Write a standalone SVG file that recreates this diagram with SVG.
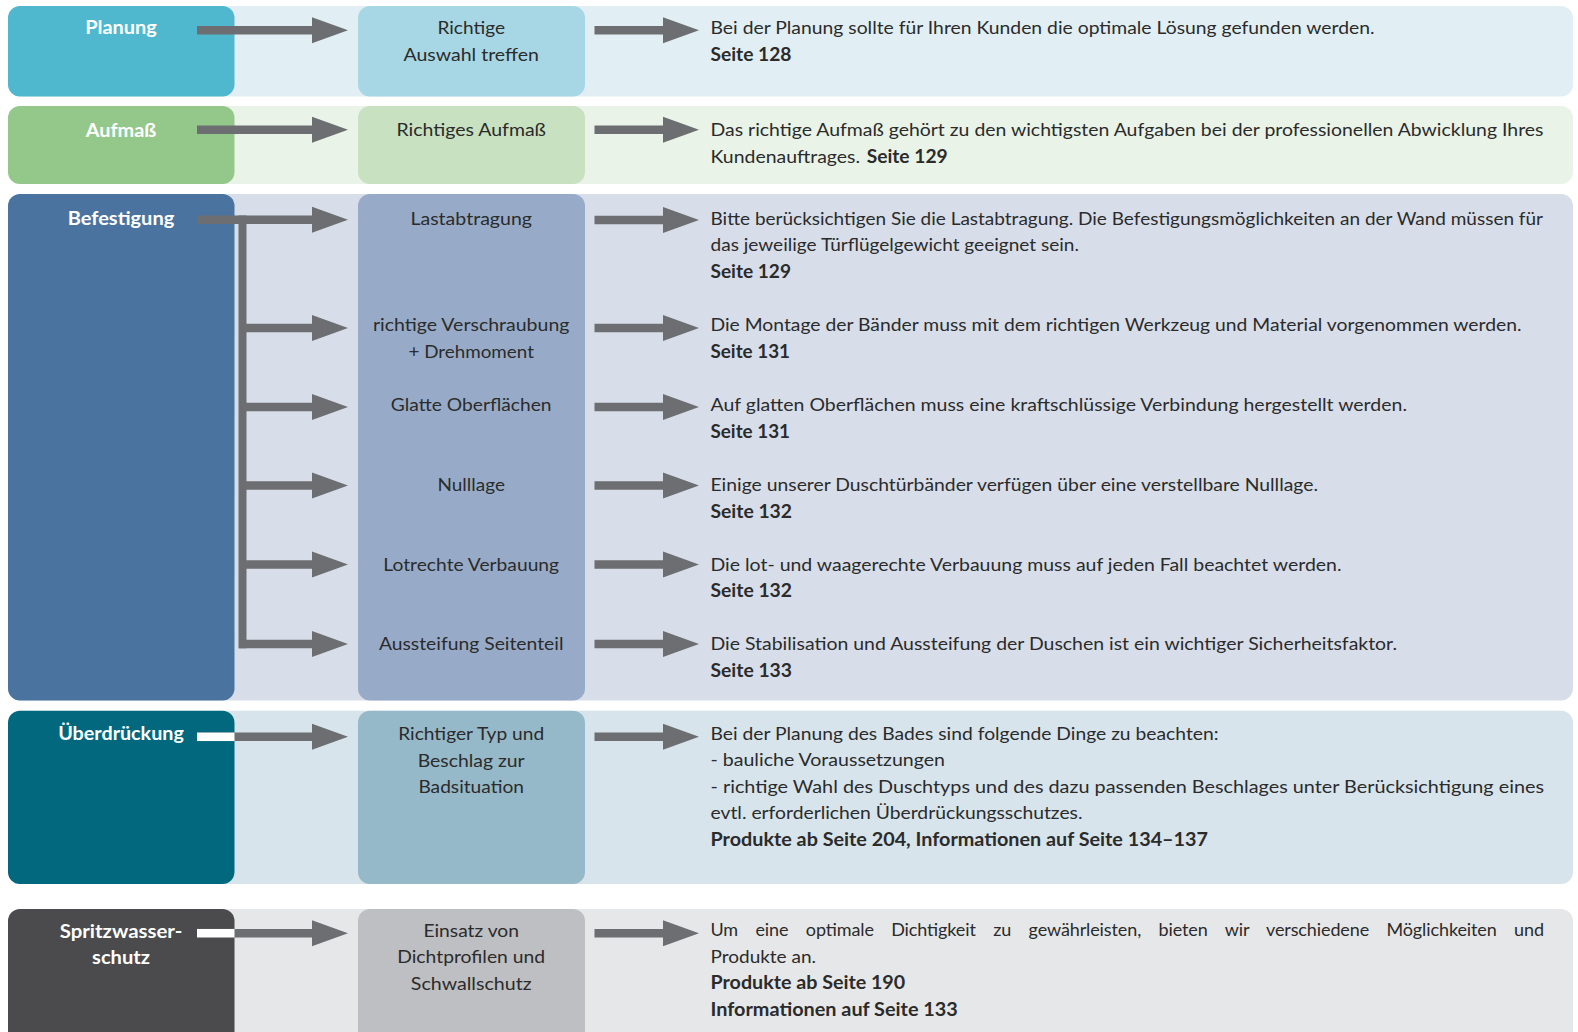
<svg xmlns="http://www.w3.org/2000/svg" width="1578" height="1032" viewBox="0 0 1578 1032">
<defs>
<style>
.t{font-family:Lato,"Open Sans","DejaVu Sans",sans-serif;font-size:18px;fill:#2b2b2b}
.b{font-weight:bold}
.m{font-family:Lato,"Open Sans","DejaVu Sans",sans-serif;font-size:18px;fill:#2b2b2b;text-anchor:middle}
.l{font-family:Lato,"Open Sans","DejaVu Sans",sans-serif;font-size:19px;font-weight:bold;fill:#ffffff;text-anchor:middle}
.arr{fill:#6d6e71}
</style>
<path id="al" d="M197,-4.25 H312 V-13 L348,0 L312,13 V4.25 H197 Z"/>
<path id="ab" d="M239,-4.25 H312 V-13 L348,0 L312,13 V4.25 H239 Z"/>
<path id="ar" d="M594.5,-4.25 H663 V-13 L699,0 L663,13 V4.25 H594.5 Z"/>
</defs>
<rect width="1578" height="1032" fill="#ffffff"/>

<!-- Bands (right-side description nodes) -->
<g id="desc-planung">
<rect x="8" y="6" width="1565" height="90.5" rx="12" fill="#e1eff4"/>
<text class="t" x="710.5" y="33.5" textLength="664" lengthAdjust="spacingAndGlyphs">Bei der Planung sollte für Ihren Kunden die optimale Lösung gefunden werden.</text>
<text class="t b" x="710.5" y="60.5" textLength="81" lengthAdjust="spacingAndGlyphs">Seite 128</text>
</g>
<g id="desc-aufmass">
<rect x="8" y="106" width="1565" height="78" rx="12" fill="#e9f3e7"/>
<text class="t" x="710.5" y="136" textLength="833" lengthAdjust="spacingAndGlyphs">Das richtige Aufmaß gehört zu den wichtigsten Aufgaben bei der professionellen Abwicklung Ihres</text>
<text class="t" x="710.5" y="162.5" textLength="149.5" lengthAdjust="spacingAndGlyphs">Kundenauftrages.</text>
<text class="t b" x="866.7" y="162.5" textLength="81" lengthAdjust="spacingAndGlyphs">Seite 129</text>
</g>
<g id="desc-befestigung">
<rect x="8" y="194" width="1565" height="506.5" rx="12" fill="#d7dee9"/>
<text class="t" x="710.5" y="225" textLength="832.5" lengthAdjust="spacingAndGlyphs">Bitte berücksichtigen Sie die Lastabtragung. Die Befestigungsmöglichkeiten an der Wand müssen für</text>
<text class="t" x="710.5" y="251" textLength="368.5" lengthAdjust="spacingAndGlyphs">das jeweilige Türflügelgewicht geeignet sein.</text>
<text class="t b" x="710.5" y="278" textLength="80.5" lengthAdjust="spacingAndGlyphs">Seite 129</text>
<text class="t" x="710.5" y="331" textLength="811" lengthAdjust="spacingAndGlyphs">Die Montage der Bänder muss mit dem richtigen Werkzeug und Material vorgenommen werden.</text>
<text class="t b" x="710.5" y="357.5" textLength="79.5" lengthAdjust="spacingAndGlyphs">Seite 131</text>
<text class="t" x="710.5" y="411" textLength="696.5" lengthAdjust="spacingAndGlyphs">Auf glatten Oberflächen muss eine kraftschlüssige Verbindung hergestellt werden.</text>
<text class="t b" x="710.5" y="438" textLength="79.5" lengthAdjust="spacingAndGlyphs">Seite 131</text>
<text class="t" x="710.5" y="491" textLength="607.5" lengthAdjust="spacingAndGlyphs">Einige unserer Duschtürbänder verfügen über eine verstellbare Nulllage.</text>
<text class="t b" x="710.5" y="517.5" textLength="81.5" lengthAdjust="spacingAndGlyphs">Seite 132</text>
<text class="t" x="710.5" y="570.5" textLength="631" lengthAdjust="spacingAndGlyphs">Die lot- und waagerechte Verbauung muss auf jeden Fall beachtet werden.</text>
<text class="t b" x="710.5" y="597" textLength="81.5" lengthAdjust="spacingAndGlyphs">Seite 132</text>
<text class="t" x="710.5" y="650" textLength="686.5" lengthAdjust="spacingAndGlyphs">Die Stabilisation und Aussteifung der Duschen ist ein wichtiger Sicherheitsfaktor.</text>
<text class="t b" x="710.5" y="676.5" textLength="81.5" lengthAdjust="spacingAndGlyphs">Seite 133</text>
</g>
<g id="desc-ueberdrueckung">
<rect x="8" y="710.7" width="1565" height="173.3" rx="12" fill="#d7e4eb"/>
<text class="t" x="710.5" y="739.5" textLength="508" lengthAdjust="spacingAndGlyphs">Bei der Planung des Bades sind folgende Dinge zu beachten:</text>
<text class="t" x="710.5" y="766" textLength="234.5" lengthAdjust="spacingAndGlyphs">- bauliche Voraussetzungen</text>
<text class="t" x="710.5" y="792.5" textLength="833.5" lengthAdjust="spacingAndGlyphs">- richtige Wahl des Duschtyps und des dazu passenden Beschlages unter Berücksichtigung eines</text>
<text class="t" x="710.5" y="819" textLength="372" lengthAdjust="spacingAndGlyphs">evtl. erforderlichen Überdrückungsschutzes.</text>
<text class="t b" x="710.5" y="845.5" textLength="497.5" lengthAdjust="spacingAndGlyphs">Produkte ab Seite 204, Informationen auf Seite 134–137</text>
</g>
<g id="desc-spritzwasserschutz">
<rect x="8" y="909" width="1565" height="140" rx="12" fill="#e6e7e9"/>
<text class="t" x="710.5" y="936" word-spacing="12.9" textLength="833.5" lengthAdjust="spacing">Um eine optimale Dichtigkeit zu gewährleisten, bieten wir verschiedene Möglichkeiten und</text>
<text class="t" x="710.5" y="962.5" textLength="105.5" lengthAdjust="spacingAndGlyphs">Produkte an.</text>
<text class="t b" x="710.5" y="989" textLength="194.7" lengthAdjust="spacingAndGlyphs">Produkte ab Seite 190</text>
<text class="t b" x="710.5" y="1015.5" textLength="247.3" lengthAdjust="spacingAndGlyphs">Informationen auf Seite 133</text>
</g>

<!-- Left category nodes -->
<g id="cat-planung">
<rect x="8" y="6" width="226.5" height="90.5" rx="12" fill="#4fb8ce"/>
<text class="l" x="121" y="33.5" textLength="71.5" lengthAdjust="spacingAndGlyphs">Planung</text>
</g>
<g id="cat-aufmass">
<rect x="8" y="106" width="226.5" height="78" rx="12" fill="#93c88a"/>
<text class="l" x="121" y="136.5" textLength="70.7" lengthAdjust="spacingAndGlyphs">Aufmaß</text>
</g>
<g id="cat-befestigung">
<rect x="8" y="194" width="226.5" height="506.5" rx="12" fill="#4a749f"/>
<text class="l" x="121" y="224.5" textLength="106.6" lengthAdjust="spacingAndGlyphs">Befestigung</text>
</g>
<g id="cat-ueberdrueckung">
<rect x="8" y="710.7" width="226.5" height="173.3" rx="12" fill="#02687e"/>
<text class="l" x="121" y="740" textLength="125.7" lengthAdjust="spacingAndGlyphs">Überdrückung</text>
</g>
<g id="cat-spritzwasserschutz">
<rect x="8" y="909" width="226.5" height="140" rx="12" fill="#4b4b4d"/>
<text class="l" x="121" y="937.5" textLength="122.6" lengthAdjust="spacingAndGlyphs">Spritzwasser-</text>
<text class="l" x="121" y="964" textLength="57.9" lengthAdjust="spacingAndGlyphs">schutz</text>
</g>

<!-- Middle nodes -->
<g id="mid-planung">
<rect x="358" y="6" width="227" height="90.5" rx="12" fill="#a7d7e5"/>
<text class="m" x="471.2" y="33.5" textLength="67.5" lengthAdjust="spacingAndGlyphs">Richtige</text>
<text class="m" x="471.2" y="60.5" textLength="135.4" lengthAdjust="spacingAndGlyphs">Auswahl treffen</text>
</g>
<g id="mid-aufmass">
<rect x="358" y="106" width="227" height="78" rx="12" fill="#c8e1c1"/>
<text class="m" x="471.2" y="136" textLength="149.4" lengthAdjust="spacingAndGlyphs">Richtiges Aufmaß</text>
</g>
<g id="mid-befestigung">
<rect x="358" y="194" width="227" height="506.5" rx="12" fill="#97abc9"/>
<text class="m" x="471.2" y="224.5" textLength="121.6" lengthAdjust="spacingAndGlyphs">Lastabtragung</text>
<text class="m" x="471.2" y="331" textLength="196.5" lengthAdjust="spacingAndGlyphs">richtige Verschraubung</text>
<text class="m" x="471.2" y="357.5" textLength="125.4" lengthAdjust="spacingAndGlyphs">+ Drehmoment</text>
<text class="m" x="471.2" y="411" textLength="160.7" lengthAdjust="spacingAndGlyphs">Glatte Oberflächen</text>
<text class="m" x="471.2" y="491" textLength="67.5" lengthAdjust="spacingAndGlyphs">Nulllage</text>
<text class="m" x="471.2" y="570.5" textLength="175.8" lengthAdjust="spacingAndGlyphs">Lotrechte Verbauung</text>
<text class="m" x="471.2" y="650" textLength="184.6" lengthAdjust="spacingAndGlyphs">Aussteifung Seitenteil</text>
</g>
<g id="mid-ueberdrueckung">
<rect x="358" y="710.7" width="227" height="173.3" rx="12" fill="#96b9c9"/>
<text class="m" x="471.2" y="739.5" textLength="146" lengthAdjust="spacingAndGlyphs">Richtiger Typ und</text>
<text class="m" x="471.2" y="766.5" textLength="107" lengthAdjust="spacingAndGlyphs">Beschlag zur</text>
<text class="m" x="471.2" y="792.5" textLength="105.6" lengthAdjust="spacingAndGlyphs">Badsituation</text>
</g>
<g id="mid-spritzwasserschutz">
<rect x="358" y="909" width="227" height="140" rx="12" fill="#bebfc2"/>
<text class="m" x="471.2" y="936.5" textLength="95.5" lengthAdjust="spacingAndGlyphs">Einsatz von</text>
<text class="m" x="471.2" y="963" textLength="147.9" lengthAdjust="spacingAndGlyphs">Dichtprofilen und</text>
<text class="m" x="471.2" y="989.5" textLength="120.7" lengthAdjust="spacingAndGlyphs">Schwallschutz</text>
</g>

<!-- Connectors -->
<g id="connectors" class="arr">
<use href="#al" y="30.3"/>
<use href="#ar" y="30.3"/>
<use href="#al" y="129.7"/>
<use href="#ar" y="129.7"/>
<use href="#al" y="219.8"/>
<rect x="238.5" y="215.5" width="8" height="432.8"/>
<use href="#ab" y="328"/>
<use href="#ab" y="407"/>
<use href="#ab" y="485.5"/>
<use href="#ab" y="564.5"/>
<use href="#ab" y="644"/>
<use href="#ar" y="220"/>
<use href="#ar" y="328"/>
<use href="#ar" y="407"/>
<use href="#ar" y="485.5"/>
<use href="#ar" y="564.5"/>
<use href="#ar" y="644"/>
<use href="#al" y="736.8"/>
<rect x="197" y="732.55" width="37.5" height="8.5" fill="#ffffff"/>
<use href="#ar" y="736.8"/>
<use href="#al" y="933.2"/>
<rect x="197" y="928.95" width="37.5" height="8.5" fill="#ffffff"/>
<use href="#ar" y="933.2"/>
</g>
</svg>
